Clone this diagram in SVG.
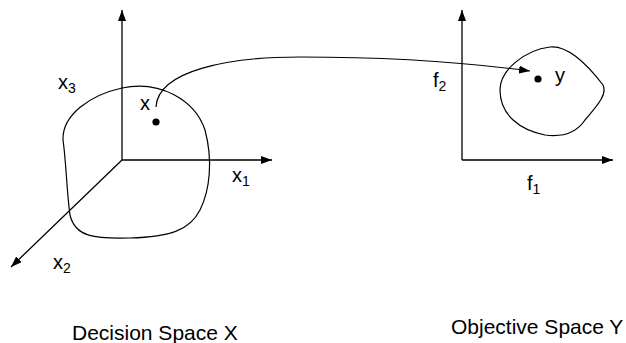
<svg xmlns="http://www.w3.org/2000/svg" width="626" height="343" viewBox="0 0 626 343">
<defs>
<style>
.ax{stroke:#000;stroke-width:1.3;fill:none}
.ln{stroke:#000;stroke-width:1.2;fill:none}
.t{font-family:"Liberation Sans",Arial,sans-serif;font-size:20px;fill:#000}
.c{font-size:21px}
.s{font-size:14px}
</style>
<marker id="ah" markerUnits="userSpaceOnUse" markerWidth="12" markerHeight="8" refX="11" refY="4" orient="auto">
<path d="M0,0 L11,4 L0,8 z" fill="#000"/>
</marker>
</defs>
<g id="decision-axes">
<line class="ax" x1="122" y1="160" x2="122" y2="10" marker-end="url(#ah)"/>
<line class="ax" x1="122" y1="160" x2="272" y2="160" marker-end="url(#ah)"/>
<line class="ax" x1="122" y1="160" x2="11" y2="267" marker-end="url(#ah)"/>
<text class="t" x="58" y="89">x<tspan class="s" dy="4">3</tspan></text>
<text class="t" x="232" y="182">x<tspan class="s" dy="4">1</tspan></text>
<text class="t" x="53" y="269">x<tspan class="s" dy="4">2</tspan></text>
</g>
<g id="decision-set">
<path class="ln" d="M122,88 C160,80 195,100 205,130 C213,160 210,190 200,210 C190,230 170,237 130,238 C95,239 75,237 70,215 C67,195 66,160 63,140 C62,115 90,95 122,88 Z"/>
<circle cx="156" cy="122" r="3.6" fill="#000"/>
<text class="t" x="140" y="110">x</text>
</g>
<g id="objective-axes">
<line class="ax" x1="462" y1="160" x2="462" y2="10" marker-end="url(#ah)"/>
<line class="ax" x1="462" y1="160" x2="613" y2="160" marker-end="url(#ah)"/>
<text class="t" x="433" y="87">f<tspan class="s" dy="4">2</tspan></text>
<text class="t" x="527" y="190">f<tspan class="s" dy="4">1</tspan></text>
</g>
<g id="objective-set">
<path class="ln" d="M500,90 C500,70 525,50 550,47 C570,45 590,68 603,85 C608,95 595,108 585,120 C575,135 560,137 545,135 C520,130 500,115 500,90 Z"/>
<circle cx="538" cy="79" r="3.6" fill="#000"/>
<text class="t" x="555" y="82">y</text>
</g>
<g id="connectors">
<path class="ln" d="M156,107 C158,70 230,57 300,57 C400,57 470,63 530,71" marker-end="url(#ah)"/>
</g>
<g id="captions">
<text class="t c" x="72" y="340">Decision Space X</text>
<text class="t c" x="451" y="334">Objective Space Y</text>
</g>
</svg>
